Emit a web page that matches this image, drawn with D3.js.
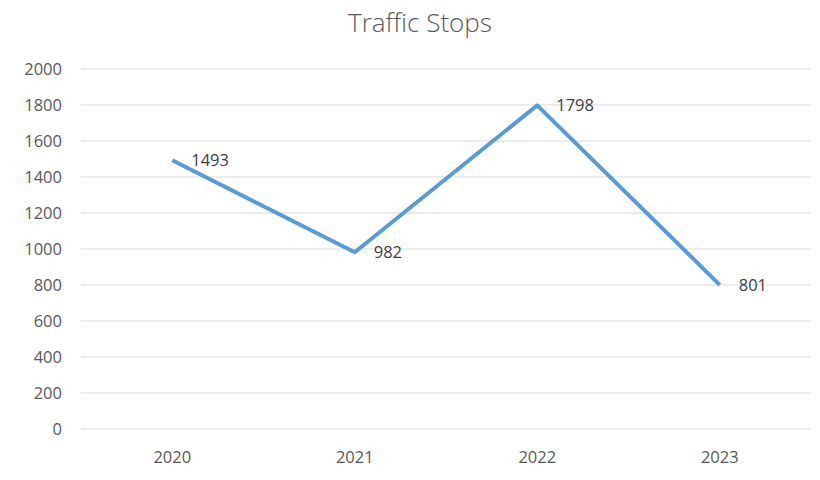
<!DOCTYPE html>
<html>
<head>
<meta charset="utf-8">
<script src="https://cdn.jsdelivr.net/npm/d3@7"></script>
<style>
  body { margin: 0; background: #fff; }
  text { font-family: "Open Sans", "Noto Sans", sans-serif; fill: #595959; }
</style>
</head>
<body>
<div id="plot"></div>
<script>
// data
const years = ["2020", "2021", "2022", "2023"];
const stops = [1493, 982, 1798, 801];
const yTicks = [0, 200, 400, 600, 800, 1000, 1200, 1400, 1600, 1800, 2000];

const w = 820, h = 480;
const margin = {top: 69, right: 9, bottom: 51, left: 81};
const innerWidth = w - margin.left - margin.right;
const innerHeight = h - margin.top - margin.bottom;

const xScale = d3.scaleBand().domain(years).range([0, innerWidth]);
const yScale = d3.scaleLinear().domain([0, 2000]).range([innerHeight, 0]);

const svg = d3.select("div#plot")
  .append("svg")
  .attr("width", w)
  .attr("height", h);

// title
svg.append("text")
  .attr("x", 420)
  .attr("y", 32)
  .attr("text-anchor", "middle")
  .style("font-size", "26px")
  .style("font-weight", "300")
  .text("Traffic Stops");

const plot = svg.append("g")
  .attr("id", "plotarea")
  .attr("transform", `translate(${margin.left}, ${margin.top})`);

// gridlines
plot.append("g")
  .selectAll("line")
  .data(yTicks)
  .enter()
  .append("line")
  .attr("x1", 0)
  .attr("x2", innerWidth)
  .attr("y1", d => yScale(d))
  .attr("y2", d => yScale(d))
  .attr("stroke", "#d9d9d9")
  .attr("stroke-width", 1);

// y-axis labels
plot.append("g")
  .selectAll("text")
  .data(yTicks)
  .enter()
  .append("text")
  .attr("x", -19)
  .attr("y", d => yScale(d))
  .attr("dy", "0.35em")
  .attr("text-anchor", "end")
  .style("font-size", "16.5px")
  .text(d => d);

// x-axis labels
plot.append("g")
  .selectAll("text")
  .data(years)
  .enter()
  .append("text")
  .attr("x", d => xScale(d) + xScale.bandwidth() / 2)
  .attr("y", innerHeight + 28)
  .attr("dy", "0.35em")
  .attr("text-anchor", "middle")
  .style("font-size", "16.5px")
  .text(d => d);

const pts = years.map((y, i) => ({year: y, value: stops[i]}));

const line = d3.line()
  .x(d => xScale(d.year) + xScale.bandwidth() / 2)
  .y(d => yScale(d.value));

plot.append("path")
  .datum(pts)
  .attr("d", line)
  .attr("fill", "none")
  .attr("stroke", "#5b9bd5")
  .attr("stroke-width", 4)
  .attr("stroke-linejoin", "round");

// data labels
plot.append("g")
  .selectAll("text")
  .data(pts)
  .enter()
  .append("text")
  .attr("x", d => xScale(d.year) + xScale.bandwidth() / 2 + 19)
  .attr("y", d => yScale(d.value))
  .attr("dy", "0.35em")
  .style("font-size", "16.5px")
  .style("fill", "#404040")
  .text(d => d.value);
</script>
</body>
</html>
